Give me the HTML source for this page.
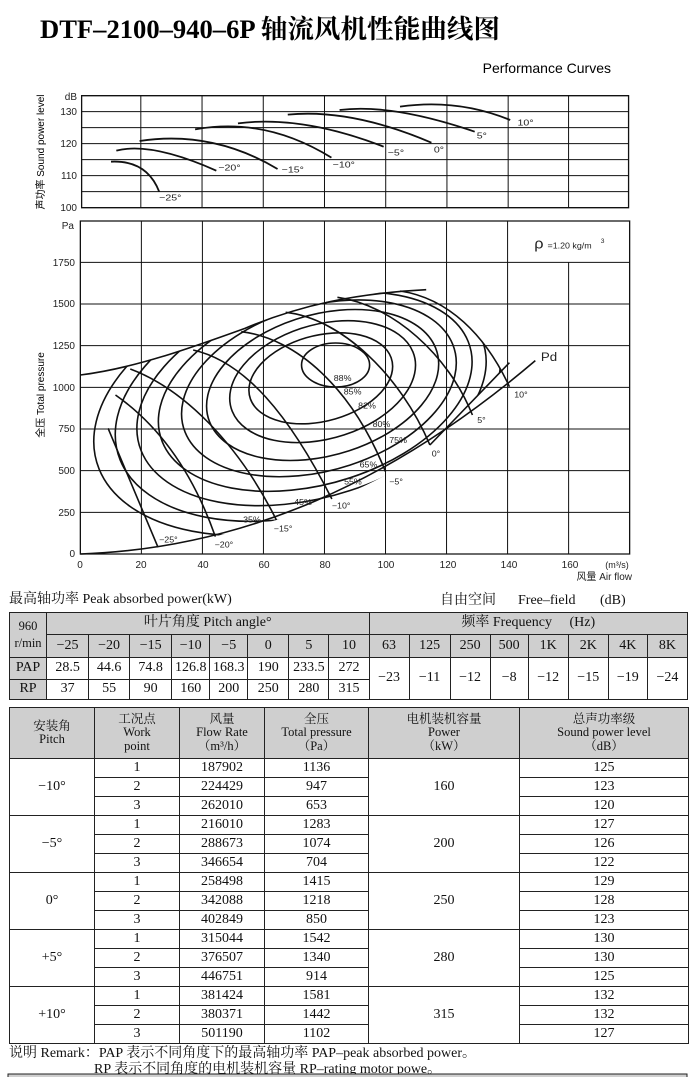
<!DOCTYPE html>
<html><head><meta charset="utf-8">
<style>
body{margin:0;background:#fff;}
#wrap{position:relative;width:700px;height:1077px;overflow:hidden;background:#fff;}
.t{position:absolute;border-collapse:collapse;font-family:"Liberation Serif","Noto Serif CJK SC",serif;font-size:14px;color:#111;table-layout:fixed;}
.t td{border:1px solid #222;text-align:center;padding:0;overflow:hidden;white-space:nowrap;line-height:1.05;}
.g{background:#cfcfcf;}
.s{font-size:12.5px;}
</style></head><body><div id="wrap">
<svg width="700" height="1077" style="position:absolute;left:0;top:0" font-family="Liberation Sans, Noto Sans CJK SC, sans-serif">
<text x="40" y="38" font-family="Liberation Serif, Noto Serif CJK SC, serif" font-weight="bold" font-size="26" textLength="460" lengthAdjust="spacingAndGlyphs">DTF–2100–940–6P 轴流风机性能曲线图</text>
<text x="611" y="73" font-size="14" text-anchor="end">Performance Curves</text>

<!-- top chart -->
<svg x="0" y="80" width="640" height="140" viewBox="0 0 1568 420" preserveAspectRatio="none">
<g stroke="#111" fill="none">
<rect x="200" y="47" width="1340" height="336" stroke-width="1.3" vector-effect="non-scaling-stroke"/>
<path d="M200 95H1540M200 143H1540M200 191H1540M200 239H1540M200 287H1540M200 335H1540M345 47V383M495 47V383M645 47V383M795 47V383M945 47V383M1095 47V383M1245 47V383M1393 47V383" stroke-width="1" vector-effect="non-scaling-stroke"/>
<g stroke-width="1.8">
<path d="M272 245 Q360 240 390 335" vector-effect="non-scaling-stroke"/>
<path d="M285 212 Q370 185 530 272" vector-effect="non-scaling-stroke"/>
<path d="M342 183 Q520 150 680 267" vector-effect="non-scaling-stroke"/>
<path d="M478 148 Q650 110 812 233" vector-effect="non-scaling-stroke"/>
<path d="M583 130 Q740 105 940 200" vector-effect="non-scaling-stroke"/>
<path d="M705 104 Q860 85 1057 188" vector-effect="non-scaling-stroke"/>
<path d="M832 90 Q960 70 1163 155" vector-effect="non-scaling-stroke"/>
<path d="M980 80 Q1120 55 1250 120" vector-effect="non-scaling-stroke"/>
</g></g>
<g font-size="26" fill="#222">
<text x="390" y="362">−25°</text><text x="535" y="272">−20°</text><text x="690" y="277">−15°</text>
<text x="815" y="263">−10°</text><text x="950" y="227">−5°</text><text x="1063" y="217">0°</text>
<text x="1168" y="175">5°</text><text x="1268" y="137">10°</text>
</g>
</svg>
<g font-size="10" text-anchor="end" fill="#222">
<text x="77" y="100">dB</text><text x="77" y="115">130</text><text x="77" y="147">120</text><text x="77" y="179">110</text><text x="77" y="211">100</text>
</g>
<text transform="translate(44,152) rotate(-90)" font-size="10" text-anchor="middle">声功率 Sound power level</text>

<!-- main chart -->
<svg x="60" y="215" width="580" height="370" viewBox="0 0 1568 1110" preserveAspectRatio="none">
<defs><clipPath id="cp"><path d="M55 480 C200 460 350 400 500 340 C650 270 800 235 920 228 C1050 250 1150 360 1215 515 L1215 443 L1000 690 C900 800 500 1000 55 1017 Z"/></clipPath></defs>
<g stroke="#111" fill="none">
<rect x="55" y="18" width="1485" height="999" stroke-width="1.3" vector-effect="non-scaling-stroke"/>
<path d="M55 142H1540M55 267H1540M55 392H1540M55 517H1540M55 642H1540M55 767H1540M55 892H1540M220 18V1017M385 18V1017M550 18V1017M715 18V1017M880 18V1017M1045 18V1017M1210 18V1017M1375 142V1017" stroke-width="1" vector-effect="non-scaling-stroke"/>
<g stroke-width="1.6">
<path d="M55 480 C200 460 350 400 500 340 C650 270 800 235 990 224" vector-effect="non-scaling-stroke"/>
<path d="M55 1017 C500 1000 900 800 1285 437" vector-effect="non-scaling-stroke"/>
<path d="M130 640 Q190 800 265 997" vector-effect="non-scaling-stroke"/>
<path d="M150 540 Q330 680 420 965" vector-effect="non-scaling-stroke"/>
<path d="M190 462 C330 520 480 680 585 915" vector-effect="non-scaling-stroke"/>
<path d="M360 405 C500 440 620 600 735 852" vector-effect="non-scaling-stroke"/>
<path d="M490 350 C640 370 790 520 880 770" vector-effect="non-scaling-stroke"/>
<path d="M610 292 C760 310 920 480 1000 690" vector-effect="non-scaling-stroke"/>
<path d="M750 247 C900 270 1050 420 1115 600" vector-effect="non-scaling-stroke"/>
<path d="M920 228 C1050 250 1150 360 1215 515" vector-effect="non-scaling-stroke"/>
<path d="M1000 690 L1215 443" vector-effect="non-scaling-stroke"/>
<g clip-path="url(#cp)">
<ellipse cx="745" cy="450" rx="92" ry="66" vector-effect="non-scaling-stroke"/>
<ellipse cx="705" cy="490" rx="200" ry="128" transform="rotate(-18 705 490)" vector-effect="non-scaling-stroke"/>
<ellipse cx="710" cy="500" rx="260" ry="170" transform="rotate(-20 710 500)" vector-effect="non-scaling-stroke"/>
<ellipse cx="710" cy="510" rx="325" ry="210" transform="rotate(-20 710 510)" vector-effect="non-scaling-stroke"/>
<ellipse cx="700" cy="520" rx="385" ry="245" transform="rotate(-20 700 520)" vector-effect="non-scaling-stroke"/>
<ellipse cx="690" cy="530" rx="440" ry="275" transform="rotate(-20 690 530)" vector-effect="non-scaling-stroke"/>
<ellipse cx="680" cy="540" rx="490" ry="305" transform="rotate(-20 680 540)" vector-effect="non-scaling-stroke"/>
<ellipse cx="670" cy="550" rx="540" ry="340" transform="rotate(-20 670 550)" vector-effect="non-scaling-stroke"/>
<ellipse cx="660" cy="560" rx="590" ry="370" transform="rotate(-20 660 560)" vector-effect="non-scaling-stroke"/>
</g></g></g>
<g font-size="24" fill="#222">
<text x="740" y="498">88%</text><text x="767" y="538">85%</text><text x="806" y="580">82%</text>
<text x="845" y="636">80%</text><text x="890" y="684">75%</text><text x="810" y="758">65%</text>
<text x="768" y="808">55%</text><text x="633" y="870">45%</text><text x="495" y="922">35%</text>
<text x="268" y="983">−25°</text><text x="418" y="998">−20°</text><text x="578" y="950">−15°</text>
<text x="735" y="880">−10°</text><text x="890" y="808">−5°</text><text x="1005" y="725">0°</text>
<text x="1128" y="624">5°</text><text x="1228" y="547">10°</text>
<text x="1300" y="438" font-size="36">Pd</text>
<text x="1282" y="100" font-size="44">ρ</text><text x="1318" y="100">=1.20 kg/m</text><text x="1462" y="84" font-size="18">3</text>
</g>
</svg>
<g font-size="10" text-anchor="end" fill="#222">
<text x="74" y="229">Pa</text><text x="75" y="266">1750</text><text x="75" y="307">1500</text><text x="75" y="349">1250</text>
<text x="75" y="391">1000</text><text x="75" y="432">750</text><text x="75" y="474">500</text><text x="75" y="516">250</text><text x="75" y="557">0</text>
</g>
<g font-size="10" text-anchor="middle" fill="#222">
<text x="80" y="568">0</text><text x="141" y="568">20</text><text x="203" y="568">40</text><text x="264" y="568">60</text>
<text x="325" y="568">80</text><text x="386" y="568">100</text><text x="448" y="568">120</text><text x="509" y="568">140</text><text x="570" y="568">160</text>
<text x="617" y="568" font-size="9">(m³/s)</text>
<text x="632" y="580" text-anchor="end">风量 Air flow</text>
</g>
<text transform="translate(44,395) rotate(-90)" font-size="10" text-anchor="middle">全压 Total pressure</text>

<g font-family="Liberation Serif, Noto Serif CJK SC, serif" font-size="14" fill="#111">
<text x="9" y="603">最高轴功率 Peak absorbed power(kW)</text>
<text x="440" y="604">自由空间</text><text x="518" y="604">Free–field</text><text x="600" y="604">(dB)</text>
<text x="9" y="1057">说明 Remark：PAP 表示不同角度下的最高轴功率 PAP–peak absorbed power。</text>
<text x="94" y="1073">RP 表示不同角度的电机装机容量 RP–rating motor powe。</text>
</g>
<rect x="8" y="1074" width="679" height="10" fill="#cfcfcf" stroke="#222"/>
</svg>

<table class="t" style="left:9px;top:612px;width:679px;">
<colgroup><col style="width:37px"><col style="width:42px"><col style="width:41px"><col style="width:42px"><col style="width:38px"><col style="width:38px"><col style="width:41px"><col style="width:40px"><col style="width:40px"><col style="width:40px"><col style="width:41px"><col style="width:40px"><col style="width:38px"><col style="width:40px"><col style="width:40px"><col style="width:39px"><col style="width:40px"></colgroup>
<tr style="height:22px"><td class="g s" rowspan="2" style="line-height:17px">960<br>r/min</td><td class="g" colspan="8">叶片角度 Pitch angle°</td><td class="g" colspan="8">频率 Frequency &nbsp;&nbsp;&nbsp;&nbsp;(Hz)</td></tr>
<tr style="height:23px" class="g"><td>−25</td><td>−20</td><td>−15</td><td>−10</td><td>−5</td><td>0</td><td>5</td><td>10</td><td>63</td><td>125</td><td>250</td><td>500</td><td>1K</td><td>2K</td><td>4K</td><td>8K</td></tr>
<tr style="height:22px"><td class="g">PAP</td><td>28.5</td><td>44.6</td><td>74.8</td><td>126.8</td><td>168.3</td><td>190</td><td>233.5</td><td>272</td><td rowspan="2">−23</td><td rowspan="2">−11</td><td rowspan="2">−12</td><td rowspan="2">−8</td><td rowspan="2">−12</td><td rowspan="2">−15</td><td rowspan="2">−19</td><td rowspan="2">−24</td></tr>
<tr style="height:20px"><td class="g">RP</td><td>37</td><td>55</td><td>90</td><td>160</td><td>200</td><td>250</td><td>280</td><td>315</td></tr>
</table>

<table class="t" style="left:9px;top:707px;width:679px;">
<colgroup><col style="width:85px"><col style="width:85px"><col style="width:85px"><col style="width:104px"><col style="width:151px"><col style="width:169px"></colgroup>
<tr style="height:51px" class="g s"><td>安装角<br>Pitch</td><td>工况点<br>Work<br>point</td><td>风量<br>Flow Rate<br>（m³/h）</td><td>全压<br>Total pressure<br>（Pa）</td><td>电机装机容量<br>Power<br>（kW）</td><td>总声功率级<br>Sound power level<br>（dB）</td></tr>
<tr style="height:19px"><td rowspan="3">−10°</td><td>1</td><td>187902</td><td>1136</td><td rowspan="3">160</td><td>125</td></tr>
<tr style="height:19px"><td>2</td><td>224429</td><td>947</td><td>123</td></tr>
<tr style="height:19px"><td>3</td><td>262010</td><td>653</td><td>120</td></tr>
<tr style="height:19px"><td rowspan="3">−5°</td><td>1</td><td>216010</td><td>1283</td><td rowspan="3">200</td><td>127</td></tr>
<tr style="height:19px"><td>2</td><td>288673</td><td>1074</td><td>126</td></tr>
<tr style="height:19px"><td>3</td><td>346654</td><td>704</td><td>122</td></tr>
<tr style="height:19px"><td rowspan="3">0°</td><td>1</td><td>258498</td><td>1415</td><td rowspan="3">250</td><td>129</td></tr>
<tr style="height:19px"><td>2</td><td>342088</td><td>1218</td><td>128</td></tr>
<tr style="height:19px"><td>3</td><td>402849</td><td>850</td><td>123</td></tr>
<tr style="height:19px"><td rowspan="3">+5°</td><td>1</td><td>315044</td><td>1542</td><td rowspan="3">280</td><td>130</td></tr>
<tr style="height:19px"><td>2</td><td>376507</td><td>1340</td><td>130</td></tr>
<tr style="height:19px"><td>3</td><td>446751</td><td>914</td><td>125</td></tr>
<tr style="height:19px"><td rowspan="3">+10°</td><td>1</td><td>381424</td><td>1581</td><td rowspan="3">315</td><td>132</td></tr>
<tr style="height:19px"><td>2</td><td>380371</td><td>1442</td><td>132</td></tr>
<tr style="height:19px"><td>3</td><td>501190</td><td>1102</td><td>127</td></tr>
</table>
</div></body></html>
